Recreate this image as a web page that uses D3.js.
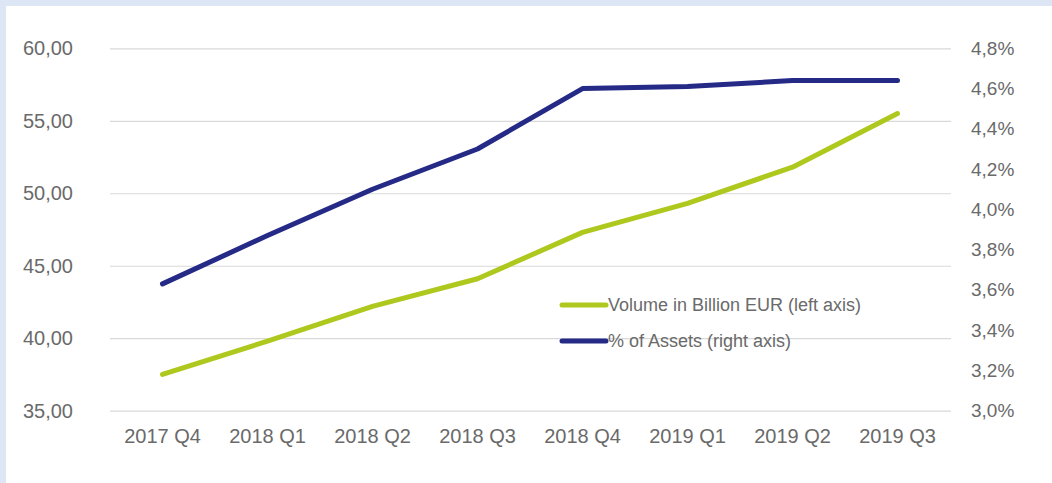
<!DOCTYPE html>
<html>
<head>
<meta charset="utf-8">
<script src="https://cdn.jsdelivr.net/npm/d3@7"></script>
<style>
  html, body { margin: 0; padding: 0; background: #dce6f4; }
  svg { display: block; }
</style>
</head>
<body>
<svg id="chart" width="1052" height="483"></svg>
<script>
const categories = ["2017 Q4", "2018 Q1", "2018 Q2", "2018 Q3", "2018 Q4", "2019 Q1", "2019 Q2", "2019 Q3"];
const volume = [37.5, 39.8, 42.2, 44.1, 47.3, 49.3, 51.8, 55.5];
const share = [3.63, 3.87, 4.10, 4.30, 4.60, 4.61, 4.64, 4.64];
const leftTicks = [35, 40, 45, 50, 55, 60];
const rightTicks = [3.0, 3.2, 3.4, 3.6, 3.8, 4.0, 4.2, 4.4, 4.6, 4.8];
const seriesNames = ["Volume in Billion EUR (left axis)", "% of Assets (right axis)"];

const colors = ["#afc81e", "#252a86"];
const font = "'Liberation Sans', Arial, sans-serif";
const textColor = "#6a6a6a";

const svg = d3.select("#chart");
svg.append("rect").attr("x", 6).attr("y", 6).attr("width", 1046).attr("height", 477).attr("fill", "#ffffff");

const plotLeft = 110, plotRight = 951, plotTop = 48.3, plotBottom = 410.7;

const x = d3.scaleBand().domain(categories).range([plotLeft, 950]).padding(0);
const yL = d3.scaleLinear().domain([35, 60]).range([plotBottom, plotTop]);
const yR = d3.scaleLinear().domain([3.0, 4.8]).range([plotBottom, plotTop]);

// Left axis with gridlines
const gL = svg.append("g").attr("transform", `translate(${plotLeft},0)`)
  .call(d3.axisLeft(yL).tickValues(leftTicks).tickSize(-(plotRight - plotLeft)).tickPadding(37)
    .tickFormat(d => d3.format(".2f")(d).replace(".", ",")));
gL.select(".domain").remove();
gL.selectAll(".tick line").attr("stroke", "#d9d9d9").attr("stroke-width", 1.2);
gL.selectAll(".tick text").attr("fill", textColor).style("font-family", font).style("font-size", "20px");

// Right axis
const gR = svg.append("g").attr("transform", `translate(${plotRight},0)`)
  .call(d3.axisRight(yR).tickValues(rightTicks).tickSize(0).tickPadding(20)
    .tickFormat(d => d3.format(".1f")(d).replace(".", ",") + "%"));
gR.select(".domain").remove();
gR.selectAll(".tick text").attr("fill", textColor).style("font-family", font).style("font-size", "19px");

// Bottom axis
const gB = svg.append("g").attr("transform", `translate(0,${plotBottom})`)
  .call(d3.axisBottom(x).tickSize(0).tickPadding(18));
gB.select(".domain").remove();
gB.selectAll(".tick text").attr("fill", textColor).style("font-family", font).style("font-size", "20px");

const cx = d => x(d) + x.bandwidth() / 2;

const lineL = d3.line().x((d, i) => cx(categories[i])).y(d => yL(d));
const lineR = d3.line().x((d, i) => cx(categories[i])).y(d => yR(d));

svg.append("path").datum(volume).attr("d", lineL)
  .attr("fill", "none").attr("stroke", colors[0]).attr("stroke-width", 5)
  .attr("stroke-linecap", "round").attr("stroke-linejoin", "round");
svg.append("path").datum(share).attr("d", lineR)
  .attr("fill", "none").attr("stroke", colors[1]).attr("stroke-width", 5)
  .attr("stroke-linecap", "round").attr("stroke-linejoin", "round");

// Legend
const legendY = [305, 341];
const lg = svg.append("g");
seriesNames.forEach((name, i) => {
  lg.append("line").attr("x1", 562).attr("x2", 606).attr("y1", legendY[i]).attr("y2", legendY[i])
    .attr("stroke", colors[i]).attr("stroke-width", 5).attr("stroke-linecap", "round");
  lg.append("text").attr("x", 608).attr("y", legendY[i]).attr("dy", "0.35em")
    .attr("fill", textColor).style("font-family", font).style("font-size", "18px").text(name);
});
</script>
</body>
</html>
